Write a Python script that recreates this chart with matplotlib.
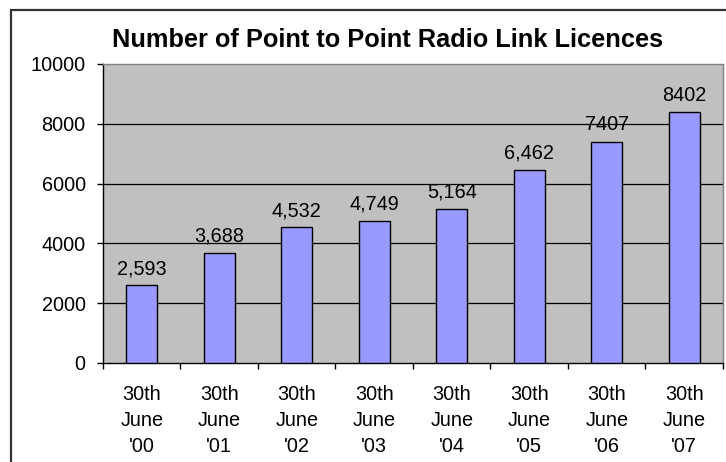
import matplotlib
matplotlib.use("Agg")
import matplotlib.pyplot as plt
from matplotlib.patches import Rectangle

plt.rcParams['font.family'] = ['Liberation Sans', 'DejaVu Sans']

categories = ["30th\nJune\n'00", "30th\nJune\n'01", "30th\nJune\n'02", "30th\nJune\n'03",
              "30th\nJune\n'04", "30th\nJune\n'05", "30th\nJune\n'06", "30th\nJune\n'07"]
values = [2593, 3688, 4532, 4749, 5164, 6462, 7407, 8402]
value_labels = ["2,593", "3,688", "4,532", "4,749", "5,164", "6,462", "7407", "8402"]
yticks = [0, 2000, 4000, 6000, 8000, 10000]
title = "Number of Point to Point Radio Link Licences"

W, H = 726, 462
fig = plt.figure(figsize=(W / 100, H / 100), dpi=100)
fig.patch.set_facecolor('white')

# chart border (extends beyond right/bottom edges)
fig.patches.append(Rectangle((10.5 / W, -0.5), 2.0, 1.5 - 9.5 / H, transform=fig.transFigure,
                             fill=False, edgecolor='#333333', linewidth=1.6))

L, R, T, B = 103, 723, 64, 363
ax = fig.add_axes([L / W, (H - B) / H, (R - L) / W, (B - T) / H])
ax.set_facecolor('#C0C0C0')

x = list(range(len(values)))
ax.bar(x, values, width=0.4, color='#9999FF', edgecolor='black', linewidth=1.0, zorder=3)

ax.set_xlim(-0.5, len(values) - 0.5)
ax.set_ylim(0, 10000)
ax.set_yticks(yticks)
ax.set_yticklabels([str(v) for v in yticks], fontsize=14.3)
ax.tick_params(axis='y', length=4.5, width=1, direction='out', pad=8)
for v in yticks[1:-1]:
    ax.axhline(v, color='black', linewidth=0.9, zorder=1)

ax.set_xticks(x)
ax.set_xticklabels(categories, fontsize=14.3, linespacing=1.45)
ax.tick_params(axis='x', which='major', length=0, pad=16)
ax.set_xticks([i - 0.5 for i in range(len(values) + 1)], minor=True)
ax.tick_params(axis='x', which='minor', length=4.5, width=1, direction='out')

for s in ['top', 'right']:
    ax.spines[s].set_color('#808080')
    ax.spines[s].set_linewidth(1.0)
for s in ['left', 'bottom']:
    ax.spines[s].set_color('black')
    ax.spines[s].set_linewidth(1.0)

for xi, v, lab in zip(x, values, value_labels):
    ax.annotate(lab, (xi, v), xytext=(0, 8), textcoords='offset points',
                ha='center', va='baseline', fontsize=14.3, zorder=4)

fig.text(388 / W, 1 - 40 / H, title, ha='center', va='center', fontsize=18.3, fontweight='bold')

fig.savefig('out.png', dpi=100)
